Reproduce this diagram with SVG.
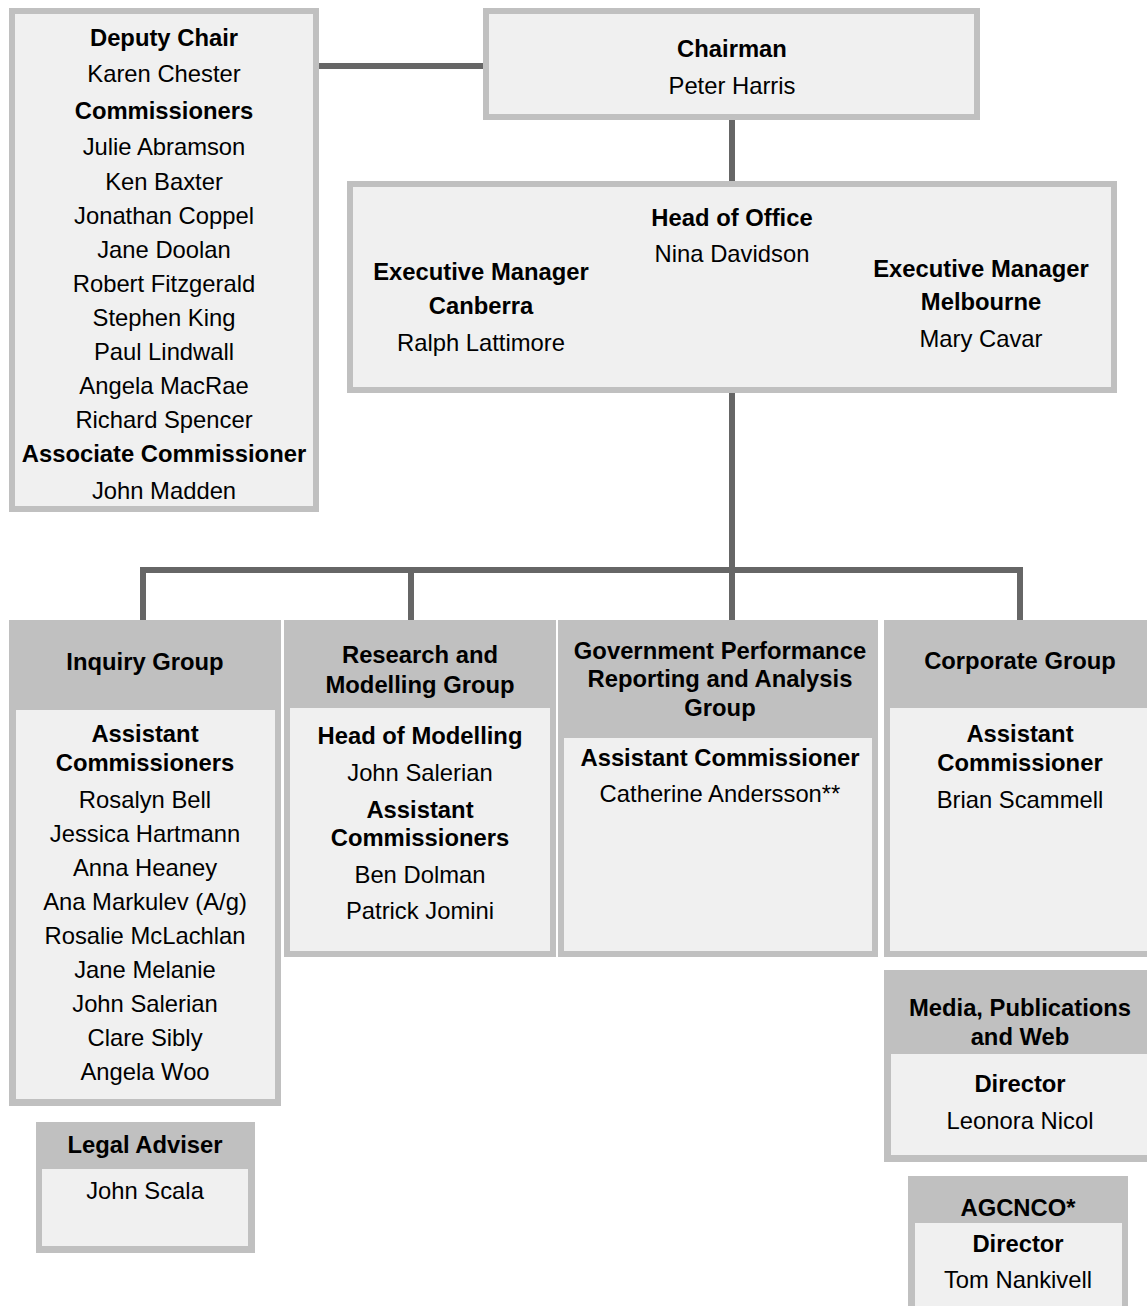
<svg xmlns="http://www.w3.org/2000/svg" width="1147" height="1306" viewBox="0 0 1147 1306">
<style>
text{font-family:"Liberation Sans",Arial,sans-serif;font-size:23.8px;fill:#000;text-anchor:middle;dominant-baseline:central}
.b{font-weight:bold}
.box{fill:#f0f0f0;stroke:#c0c0c0;stroke-width:6}
.outer{fill:#c0c0c0}
.inner{fill:#f0f0f0}
.con{stroke:#666;stroke-width:6;fill:none}
</style>
<rect width="1147" height="1306" fill="#fff"/>
<g id="connectors">
<path class="con" d="M319 66H483"/>
<path class="con" d="M732 120V181"/>
<path class="con" d="M732 393V623"/>
<path class="con" d="M143 623V570H1020V623"/>
<path class="con" d="M411 570V623"/>
</g>
<g id="deputy">
<rect class="box" x="12" y="11" width="304" height="498"/>
<text class="b" x="164" y="37">Deputy Chair</text>
<text x="164" y="73">Karen Chester</text>
<text class="b" x="164" y="110">Commissioners</text>
<text x="164" y="146">Julie Abramson</text>
<text x="164" y="181">Ken Baxter</text>
<text x="164" y="215">Jonathan Coppel</text>
<text x="164" y="249">Jane Doolan</text>
<text x="164" y="283">Robert Fitzgerald</text>
<text x="164" y="317">Stephen King</text>
<text x="164" y="351">Paul Lindwall</text>
<text x="164" y="385">Angela MacRae</text>
<text x="164" y="419">Richard Spencer</text>
<text class="b" x="164" y="453">Associate Commissioner</text>
<text x="164" y="490">John Madden</text>
</g>
<g id="chairman">
<rect class="box" x="486" y="11" width="491" height="106"/>
<text class="b" x="732" y="48">Chairman</text>
<text x="732" y="85">Peter Harris</text>
</g>
<g id="office">
<rect class="box" x="350" y="184" width="764" height="206"/>
<text class="b" x="732" y="217">Head of Office</text>
<text x="732" y="253">Nina Davidson</text>
<text class="b" x="481" y="271">Executive Manager</text>
<text class="b" x="481" y="305">Canberra</text>
<text x="481" y="342">Ralph Lattimore</text>
<text class="b" x="981" y="268">Executive Manager</text>
<text class="b" x="981" y="301">Melbourne</text>
<text x="981" y="338">Mary Cavar</text>
</g>
<g id="inquiry">
<rect class="outer" x="9" y="620" width="272" height="486"/>
<rect class="inner" x="16" y="710" width="259" height="389"/>
<text class="b" x="145" y="661">Inquiry Group</text>
<text class="b" x="145" y="733">Assistant</text>
<text class="b" x="145" y="762">Commissioners</text>
<text x="145" y="799">Rosalyn Bell</text>
<text x="145" y="833">Jessica Hartmann</text>
<text x="145" y="867">Anna Heaney</text>
<text x="145" y="901">Ana Markulev (A/g)</text>
<text x="145" y="935">Rosalie McLachlan</text>
<text x="145" y="969">Jane Melanie</text>
<text x="145" y="1003">John Salerian</text>
<text x="145" y="1037">Clare Sibly</text>
<text x="145" y="1071">Angela Woo</text>
</g>
<g id="research">
<rect class="outer" x="284" y="620" width="272" height="337"/>
<rect class="inner" x="290" y="708" width="260" height="243"/>
<text class="b" x="420" y="654">Research and</text>
<text class="b" x="420" y="684">Modelling Group</text>
<text class="b" x="420" y="735">Head of Modelling</text>
<text x="420" y="772">John Salerian</text>
<text class="b" x="420" y="809">Assistant</text>
<text class="b" x="420" y="837">Commissioners</text>
<text x="420" y="874">Ben Dolman</text>
<text x="420" y="910">Patrick Jomini</text>
</g>
<g id="gpra">
<rect class="outer" x="558" y="620" width="320" height="337"/>
<rect class="inner" x="564" y="738" width="308" height="213"/>
<text class="b" x="720" y="650">Government Performance</text>
<text class="b" x="720" y="678">Reporting and Analysis</text>
<text class="b" x="720" y="707">Group</text>
<text class="b" x="720" y="757">Assistant Commissioner</text>
<text x="720" y="793">Catherine Andersson**</text>
</g>
<g id="corporate">
<rect class="outer" x="884" y="620" width="270" height="337"/>
<rect class="inner" x="890" y="708" width="260" height="243"/>
<text class="b" x="1020" y="660">Corporate Group</text>
<text class="b" x="1020" y="733">Assistant</text>
<text class="b" x="1020" y="762">Commissioner</text>
<text x="1020" y="799">Brian Scammell</text>
</g>
<g id="media">
<rect class="outer" x="884" y="970" width="270" height="192"/>
<rect class="inner" x="891" y="1054" width="260" height="101"/>
<text class="b" x="1020" y="1007">Media, Publications</text>
<text class="b" x="1020" y="1036">and Web</text>
<text class="b" x="1020" y="1083">Director</text>
<text x="1020" y="1120">Leonora Nicol</text>
</g>
<g id="legal">
<rect class="outer" x="36" y="1122" width="219" height="131"/>
<rect class="inner" x="42" y="1169" width="206" height="77"/>
<text class="b" x="145" y="1144">Legal Adviser</text>
<text x="145" y="1190">John Scala</text>
</g>
<g id="agcnco">
<rect class="outer" x="908" y="1176" width="220" height="130"/>
<rect class="inner" x="915" y="1223" width="207" height="83"/>
<text class="b" x="1018" y="1207">AGCNCO*</text>
<text class="b" x="1018" y="1243">Director</text>
<text x="1018" y="1279">Tom Nankivell</text>
</g>
</svg>
